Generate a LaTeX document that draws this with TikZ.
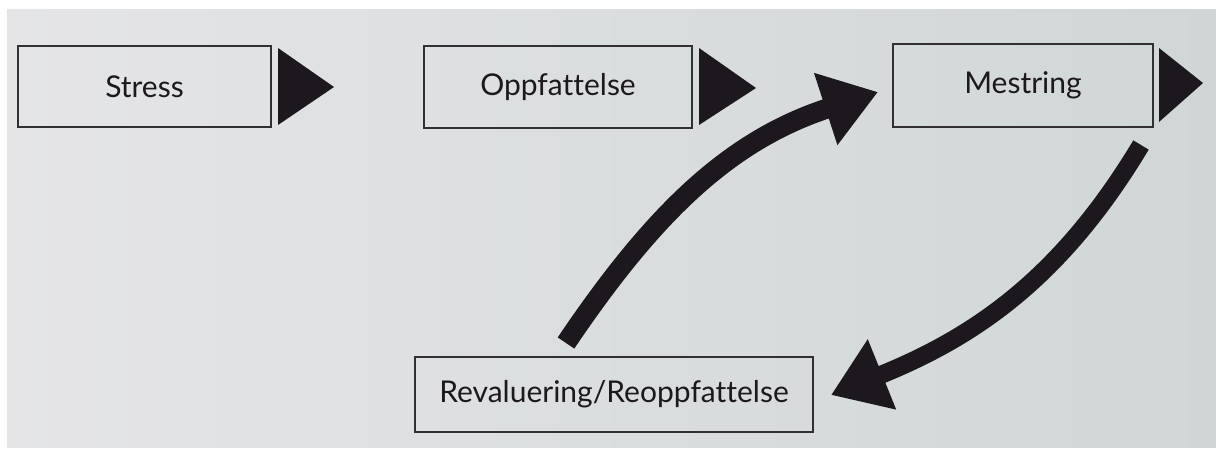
\documentclass[tikz,border=0pt]{standalone}
\usepackage{fontspec}
\setmainfont[Ligatures=NoCommon]{Lato}
\usetikzlibrary{arrows.meta,calc}
\definecolor{paperL}{RGB}{229,229,231}
\definecolor{paperR}{RGB}{208,214,214}
\definecolor{ink}{RGB}{28,24,30}
\definecolor{boxline}{RGB}{50,48,52}
\tikzset{
  box/.style={draw=boxline, line width=2pt, rectangle, inner sep=0pt,
              font=\fontsize{30}{36}\selectfont, text=ink},
  tri/.style={fill=ink},
  bigarrow/.style={draw=ink, line cap=butt,
                   -{Triangle[length=55pt,width=72pt]}}
}
\begin{document}
\begin{tikzpicture}[x=1pt,y=-1pt]
\useasboundingbox (0,0) rectangle (1216,448);
\fill[white] (0,0) rectangle (1216,448);
\shade[left color=paperL, right color=paperR] (7,9) rectangle (1216,447);

\node[box, minimum width=253pt, minimum height=81pt] (stress) at (144.5,86.5) {Stress};
\node[box, minimum width=268pt, minimum height=82pt] (oppf) at (558,87) {Oppfat\kern0pt telse};
\node[box, minimum width=260pt, minimum height=83pt] (mest) at (1023,85.5) {Mestring};
\node[box, minimum width=398pt, minimum height=75pt] (reval) at (614,394.5) {Revaluering/Reoppfat\kern0pt telse};

\fill[tri] ($(stress.east)+(6,-38.5)$) -- ($(stress.east)+(62,0.5)$) -- ($(stress.east)+(6,38.5)$) -- cycle;
\fill[tri] ($(oppf.east)+(6,-39)$) -- ($(oppf.east)+(63,1)$) -- ($(oppf.east)+(6,38)$) -- cycle;
\fill[tri] ($(mest.east)+(5,-37.5)$) -- ($(mest.east)+(49,-2.5)$) -- ($(mest.east)+(5,36.5)$) -- cycle;

\coordinate (a1s) at (566,343);
\coordinate (a1e) at (878,92);
\coordinate (a2s) at (1141,145);
\coordinate (a2e) at (831,395);

\draw[bigarrow, line width=20pt] (a1s) to[out=56,in=198] (a1e);
\draw[bigarrow, line width=18pt] (a2s) to[out=239,in=22] (a2e);
\end{tikzpicture}
\end{document}
